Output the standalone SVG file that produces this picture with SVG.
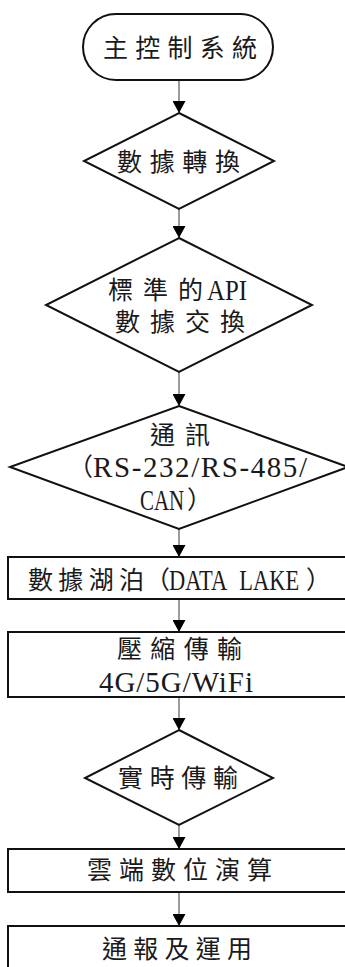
<svg xmlns="http://www.w3.org/2000/svg" width="345" height="967" viewBox="0 0 345 967">
<style>
.shape{fill:#fff;stroke:#111;stroke-width:2}
.conn{stroke:#666;stroke-width:1.3;fill:none}
text{font-family:"Liberation Serif","Noto Sans CJK TC",serif;font-size:25px;fill:#1a1a1a;text-anchor:middle;dominant-baseline:central}
.lat{font-size:29px}
text.st{text-anchor:start}
</style>
<defs>
<marker id="ah" markerUnits="userSpaceOnUse" markerWidth="13" markerHeight="13" refX="12" refY="6.5" orient="auto">
<path d="M0,0 L12,6.5 L0,13 z" fill="#000"/>
</marker>
</defs>
<rect width="345" height="967" fill="#fff"/>
<g id="connectors">
<line class="conn" x1="179" y1="80" x2="179" y2="113" marker-end="url(#ah)"/>
<line class="conn" x1="179" y1="209" x2="179" y2="238" marker-end="url(#ah)"/>
<line class="conn" x1="179" y1="372" x2="179" y2="406" marker-end="url(#ah)"/>
<line class="conn" x1="179" y1="529" x2="179" y2="557" marker-end="url(#ah)"/>
<line class="conn" x1="179" y1="599" x2="179" y2="632" marker-end="url(#ah)"/>
<line class="conn" x1="179" y1="697" x2="179" y2="730" marker-end="url(#ah)"/>
<line class="conn" x1="179" y1="825" x2="179" y2="849" marker-end="url(#ah)"/>
<line class="conn" x1="179" y1="892" x2="179" y2="926" marker-end="url(#ah)"/>
</g>
<g id="n1">
<rect class="shape" x="83" y="14" width="190" height="66" rx="33" ry="33"/>
<text x="180" y="48" textLength="154" lengthAdjust="spacing">主控制系統</text>
</g>
<g id="n2">
<polygon class="shape" points="179,113 274,161 179,209 84,161"/>
<text x="178.5" y="162" textLength="123" lengthAdjust="spacing">數據轉換</text>
</g>
<g id="n3">
<polygon class="shape" points="179,238 312,305 179,372 46,305"/>
<text class="st" x="108" y="290" textLength="95" lengthAdjust="spacing">標準的</text>
<text class="lat st" transform="translate(207,290) scale(0.857,1)">API</text>
<text x="180" y="322" textLength="130" lengthAdjust="spacing">數據交換</text>
</g>
<g id="n4">
<polygon class="shape" points="179,406 348,467 179,529 10,467"/>
<text x="180" y="435" textLength="60" lengthAdjust="spacing">通訊</text>
<text class="st" x="68" y="467">（<tspan class="lat" textLength="214" lengthAdjust="spacing">RS-232/RS-485/</tspan></text>
<text class="lat st" transform="translate(140,500) scale(0.72,1)">CAN</text>
<text class="st" x="187" y="500">）</text>
</g>
<g id="n5">
<rect class="shape" x="8" y="557" width="345" height="42"/>
<text class="st" x="28" y="580" textLength="116" lengthAdjust="spacing">數據湖泊</text>
<text class="st" x="145" y="580">（</text>
<text class="lat st" transform="translate(169,580) scale(0.775,1)" word-spacing="10">DATA LAKE</text>
<text class="st" x="306" y="580">）</text>
</g>
<g id="n6">
<rect class="shape" x="8" y="632" width="345" height="65"/>
<text x="179.5" y="649" textLength="125" lengthAdjust="spacing">壓縮傳輸</text>
<text class="lat" x="176" y="682" textLength="154" lengthAdjust="spacing">4G/5G/WiFi</text>
</g>
<g id="n7">
<polygon class="shape" points="179,730 273,778 179,825 85,778"/>
<text x="178" y="778" textLength="120" lengthAdjust="spacing">實時傳輸</text>
</g>
<g id="n8">
<rect class="shape" x="8" y="849" width="345" height="43"/>
<text x="179.5" y="870" textLength="185" lengthAdjust="spacing">雲端數位演算</text>
</g>
<g id="n9">
<rect class="shape" x="8" y="926" width="345" height="60"/>
<text x="177" y="949" textLength="150" lengthAdjust="spacing">通報及運用</text>
</g>
</svg>
